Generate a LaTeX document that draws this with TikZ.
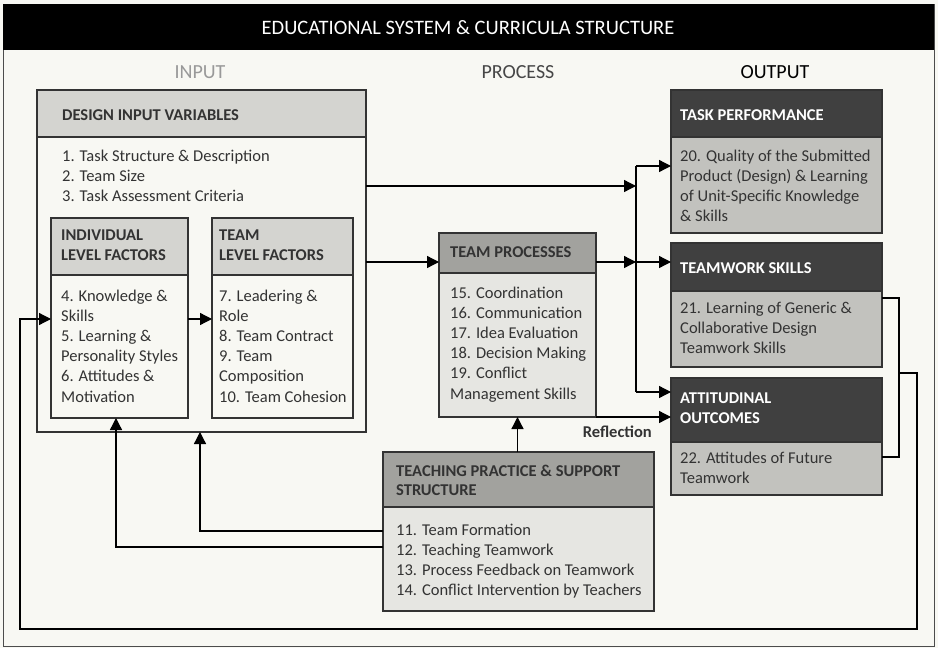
\documentclass[tikz,border=0pt]{standalone}
\usepackage{fontspec}
\setmainfont{Carlito}
\usetikzlibrary{arrows.meta}
\definecolor{bg}{HTML}{F8F8F3}
\definecolor{hdlight}{HTML}{D4D4D0}
\definecolor{hdmid}{HTML}{A2A29E}
\definecolor{bdmid}{HTML}{E6E6E2}
\definecolor{hddark}{HTML}{404040}
\definecolor{bddark}{HTML}{C2C2BE}
\definecolor{txt}{HTML}{333333}
\definecolor{edge}{HTML}{333333}
\tikzset{
 box/.style={draw=edge, line width=1.3pt, anchor=north west, inner sep=0pt, outer sep=0pt},
 arr/.style={line width=1.3pt, draw=black, -{Triangle[length=12pt,width=12pt]}},
 ln/.style={line width=1.3pt, draw=black},
 body/.style={anchor=north west, inner sep=0pt, align=left, text=txt, font=\fontsize{16.5}{20.2}\selectfont},
 ttl/.style={anchor=north west, inner sep=0pt, align=left, text=txt, font=\bfseries\fontsize{16.5}{20.2}\selectfont},
 colhead/.style={inner sep=0pt, font=\fontsize{20}{22}\selectfont},
}
\begin{document}
\begin{tikzpicture}[x=1pt,y=-1pt]
\fill[bg] (0,0) rectangle (938,648);
\useasboundingbox (0,0) rectangle (938,648);
\draw[draw=black!70, line width=1pt] (3,4) rectangle (934,646);
\node[fill=black, anchor=north west, minimum width=931pt, minimum height=46pt, inner sep=0pt] (hdr) at (3,4) {};
\node[text=white, inner sep=0pt, font=\fontsize{20.5}{22}\selectfont] (hdrt) at (468,28) {EDUCATIONAL SYSTEM \& CURRICULA STRUCTURE};
\node[colhead, text=black!40] (cin) at (200,72) {INPUT};
\node[colhead, text=black!72] (cpr) at (518,72) {PROCESS};
\node[colhead, text=black] (cout) at (775,72) {OUTPUT};

% Design input variables
\node[box, fill=bg, minimum width=329pt, minimum height=342pt] (design) at (37,90) {};
\node[box, fill=hdlight, minimum width=329pt, minimum height=47pt] (designH) at (37,90) {};
\node[ttl] (designT) at (62,109.5) {DESIGN INPUT VARIABLES};
\node[body] (designB) at (62,149.5) {1. Task Structure \& Description\\2. Team Size\\3. Task Assessment Criteria};

% Individual
\node[box, fill=bg, minimum width=137pt, minimum height=200pt] (ind) at (51,218) {};
\node[box, fill=hdlight, minimum width=137pt, minimum height=57pt] (indH) at (51,218) {};
\node[ttl] (indT) at (61,229.5) {INDIVIDUAL\\LEVEL FACTORS};
\node[body] (indB) at (61,289.5) {4. Knowledge \&\\Skills\\5. Learning \&\\Personality Styles\\6. Attitudes \&\\Motivation};

% Team
\node[box, fill=bg, minimum width=141pt, minimum height=200pt] (team) at (212,218) {};
\node[box, fill=hdlight, minimum width=141pt, minimum height=57pt] (teamH) at (212,218) {};
\node[ttl] (teamT) at (219,229.5) {TEAM\\LEVEL FACTORS};
\node[body] (teamB) at (219,289.5) {7. Leadering \&\\Role\\8. Team Contract\\9. Team\\Composition\\10. Team Cohesion};

% Team processes
\node[box, fill=bdmid, minimum width=157pt, minimum height=184pt] (tp) at (439,233) {};
\node[box, fill=hdmid, minimum width=157pt, minimum height=40pt] (tpH) at (439,233) {};
\node[ttl] (tpT) at (450,246.5) {TEAM PROCESSES};
\node[body] (tpB) at (450,286.5) {15. Coordination\\16. Communication\\17. Idea Evaluation\\18. Decision Making\\19. Conflict\\Management Skills};

% Teaching practice
\node[box, fill=bdmid, minimum width=271pt, minimum height=159pt] (teach) at (383,452) {};
\node[box, fill=hdmid, minimum width=271pt, minimum height=55pt] (teachH) at (383,452) {};
\node[ttl, font=\bfseries\fontsize{16.5}{19.5}\selectfont] (teachT) at (396,464.5) {TEACHING PRACTICE \& SUPPORT\\STRUCTURE};
\node[body, font=\fontsize{16.5}{20}\selectfont] (teachB) at (396,523.5) {11. Team Formation\\12. Teaching Teamwork\\13. Process Feedback on Teamwork\\14. Conflict Intervention by Teachers};

% Outputs
\node[box, fill=bddark, minimum width=211pt, minimum height=143pt] (perf) at (671,90) {};
\node[box, fill=hddark, minimum width=211pt, minimum height=47pt] (perfH) at (671,90) {};
\node[ttl, text=white] (perfT) at (680,109.5) {TASK PERFORMANCE};
\node[body] (perfB) at (680,149.5) {20. Quality of the Submitted\\Product (Design) \& Learning\\of Unit-Specific Knowledge\\\& Skills};

\node[box, fill=bddark, minimum width=211pt, minimum height=124pt] (tw) at (671,243) {};
\node[box, fill=hddark, minimum width=211pt, minimum height=48pt] (twH) at (671,243) {};
\node[ttl, text=white] (twT) at (680,262.5) {TEAMWORK SKILLS};
\node[body] (twB) at (680,301.5) {21. Learning of Generic \&\\Collaborative Design\\Teamwork Skills};

\node[box, fill=bddark, minimum width=211pt, minimum height=117pt] (att) at (671,378) {};
\node[box, fill=hddark, minimum width=211pt, minimum height=64pt] (attH) at (671,378) {};
\node[ttl, text=white] (attT) at (680,392.5) {ATTITUDINAL\\OUTCOMES};
\node[body] (attB) at (680,451.5) {22. Attitudes of Future\\Teamwork};

% coordinates
\coordinate (vtop) at (636,166);
\coordinate (vbot) at (636,392);
\coordinate (j1) at (636,186);
\coordinate (j2) at (636,262);
\coordinate (c1) at (200,531);
\coordinate (c2) at (116,547);
\coordinate (c3) at (200,319);
\coordinate (b1) at (899,298);
\coordinate (b2) at (899,457);
\coordinate (b3) at (899,373);
\coordinate (f1) at (917,373);
\coordinate (f2) at (917,629);
\coordinate (f3) at (20,629);
\coordinate (f4) at (20,319);

% connectors
\draw[ln] (vtop) -- (vbot);
\draw[arr] (vtop) -- (perf.west |- vtop);
\draw[arr] (vbot) -- (att.west |- vbot);
\draw[arr] (design.east |- j1) -- (j1);
\draw[arr] (design.east |- j2) -- (tp.west |- j2);
\draw[arr] (tp.east |- j2) -- (j2);
\draw[arr] (j2) -- (tw.west |- j2);
\draw[arr] (tp.south east) -- (att.west |- tp.south east);
\node[anchor=east, inner sep=0pt, text=txt, font=\bfseries\fontsize{16.5}{18}\selectfont] (refl) at (652,432) {Reflection};
\draw[arr] (teach.north -| tp.south) -- (tp.south);
\draw[arr] (teach.west |- c1) -- (c1) -- (c1 |- design.south);
\draw[arr] (teach.west |- c2) -- (c2) -- (c2 |- ind.south);
\draw[arr] (ind.east |- c3) -- (team.west |- c3);
\draw[ln] (tw.east |- b1) -- (b1) -- (b2) -- (att.east |- b2);
\draw[arr] (b3) -- (f1) -- (f2) -- (f3) -- (f4) -- (ind.west |- f4);
\end{tikzpicture}
\end{document}
